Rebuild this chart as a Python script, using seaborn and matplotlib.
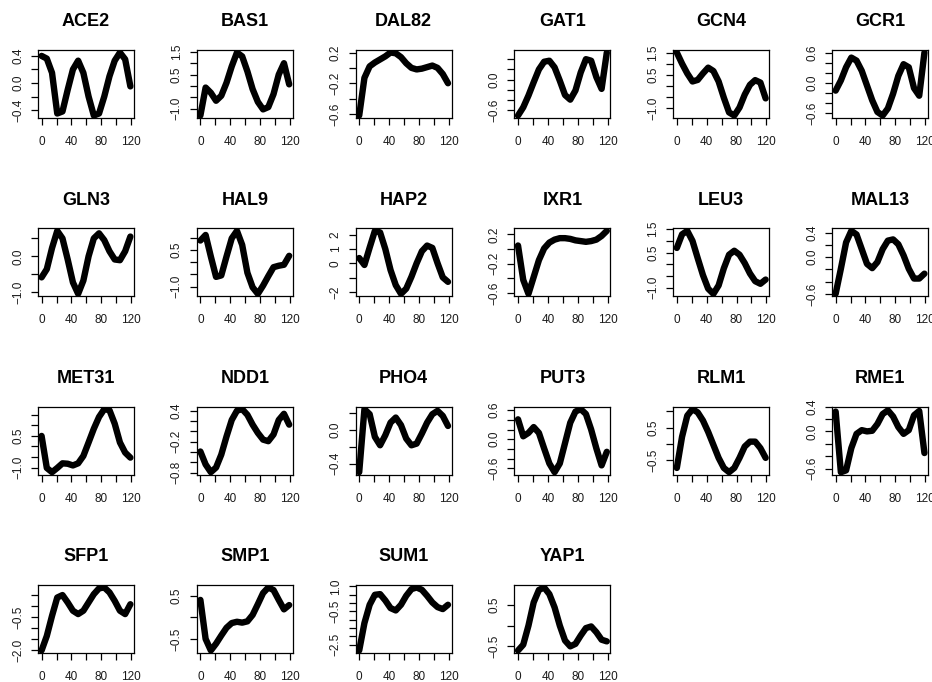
import numpy as np
import matplotlib
matplotlib.use("Agg")
import matplotlib.pyplot as plt
import seaborn as sns

# sampling times (minutes)
minutes = np.arange(0, 120, 7)

genes = ["ACE2", "BAS1", "DAL82", "GAT1", "GCN4", "GCR1",
         "GLN3", "HAL9", "HAP2", "IXR1", "LEU3", "MAL13",
         "MET31", "NDD1", "PHO4", "PUT3", "RLM1", "RME1",
         "SFP1", "SMP1", "SUM1", "YAP1"]

ace2 = [0.40, 0.36, 0.15, -0.45, -0.42, -0.10, 0.20, 0.33, 0.15, -0.20, -0.48, -0.45, -0.20, 0.10, 0.33, 0.45, 0.35, -0.05]
bas1 = [-1.30, -0.07, -0.30, -0.65, -0.43, 0.14, 0.86, 1.47, 1.30, 0.64, -0.14, -0.70, -1.03, -0.93, -0.36, 0.50, 1.00, 0.07]
dal82 = [-0.62, -0.13, 0.02, 0.07, 0.11, 0.15, 0.20, 0.19, 0.14, 0.06, 0.00, -0.02, -0.01, 0.01, 0.03, 0.00, -0.08, -0.20]
gat1 = [-0.70, -0.54, -0.31, -0.05, 0.20, 0.35, 0.37, 0.24, -0.02, -0.30, -0.39, -0.21, 0.14, 0.40, 0.37, 0.05, -0.18, 0.53]
gcn4 = [1.50, 1.00, 0.56, 0.20, 0.27, 0.56, 0.82, 0.67, 0.20, -0.53, -1.19, -1.33, -0.97, -0.39, 0.05, 0.26, 0.15, -0.56]
gcr1 = [-0.15, 0.05, 0.31, 0.50, 0.44, 0.24, -0.05, -0.34, -0.57, -0.64, -0.50, -0.21, 0.14, 0.37, 0.31, -0.10, -0.25, 0.60]
gln3 = [-0.59, -0.36, 0.23, 0.71, 0.50, -0.09, -0.73, -1.05, -0.68, 0.00, 0.50, 0.64, 0.45, 0.14, -0.09, -0.11, 0.14, 0.55]
hal9 = [0.90, 1.13, 0.24, -0.60, -0.54, 0.24, 0.99, 1.30, 0.72, -0.43, -1.03, -1.30, -0.96, -0.57, -0.20, -0.14, -0.10, 0.27]
hap2 = [0.38, -0.10, 1.10, 2.26, 2.15, 1.00, -0.45, -1.50, -2.10, -1.74, -0.92, 0.02, 0.85, 1.24, 1.08, 0.02, -0.96, -1.27]
ixr1 = [0.05, -0.42, -0.61, -0.38, -0.15, 0.01, 0.09, 0.13, 0.15, 0.15, 0.14, 0.12, 0.11, 0.10, 0.11, 0.13, 0.18, 0.25]
leu3 = [0.70, 1.28, 1.43, 1.00, 0.26, -0.46, -1.04, -1.26, -0.90, -0.17, 0.41, 0.58, 0.41, 0.05, -0.39, -0.72, -0.83, -0.65]
mal13 = [-0.60, -0.19, 0.24, 0.43, 0.37, 0.13, -0.11, -0.18, -0.08, 0.13, 0.27, 0.29, 0.21, 0.03, -0.19, -0.35, -0.35, -0.27]
met31 = [0.50, -1.02, -1.22, -1.02, -0.80, -0.82, -0.90, -0.80, -0.45, 0.19, 0.84, 1.40, 1.77, 1.72, 1.08, 0.19, -0.29, -0.53]
ndd1 = [-0.39, -0.64, -0.79, -0.70, -0.45, -0.10, 0.22, 0.40, 0.43, 0.32, 0.13, -0.03, -0.16, -0.19, -0.06, 0.22, 0.34, 0.13]
pho4 = [-0.50, 0.25, 0.19, -0.08, -0.18, -0.06, 0.09, 0.15, 0.06, -0.10, -0.18, -0.16, -0.04, 0.09, 0.19, 0.23, 0.17, 0.05]
put3 = [0.41, 0.06, 0.13, 0.25, 0.13, -0.19, -0.50, -0.68, -0.50, -0.08, 0.34, 0.57, 0.62, 0.52, 0.20, -0.19, -0.54, -0.26]
rlm1 = [-0.74, 0.22, 0.87, 1.07, 0.97, 0.72, 0.37, -0.03, -0.43, -0.74, -0.87, -0.74, -0.43, -0.08, 0.07, 0.07, -0.13, -0.43]
rme1 = [0.32, -0.66, -0.63, -0.27, -0.04, 0.02, 0.00, 0.01, 0.12, 0.28, 0.34, 0.24, 0.07, -0.04, 0.02, 0.26, 0.33, -0.35]
sfp1 = [-2.00, -1.35, -0.45, 0.37, 0.48, 0.15, -0.22, -0.37, -0.22, 0.15, 0.52, 0.78, 0.82, 0.60, 0.22, -0.22, -0.37, 0.07]
smp1 = [0.41, -0.50, -0.77, -0.61, -0.42, -0.24, -0.13, -0.10, -0.12, -0.09, 0.06, 0.31, 0.57, 0.70, 0.64, 0.41, 0.19, 0.29]
sum1 = [-2.85, -1.20, -0.10, 0.50, 0.54, 0.16, -0.30, -0.44, -0.10, 0.44, 0.84, 0.94, 0.80, 0.44, 0.04, -0.24, -0.36, -0.10]
yap1 = [-0.60, -0.46, 0.00, 0.56, 0.86, 0.92, 0.76, 0.44, 0.00, -0.36, -0.50, -0.44, -0.24, -0.06, -0.02, -0.16, -0.34, -0.38]

profiles = [ace2, bas1, dal82, gat1, gcn4, gcr1, gln3, hal9, hap2, ixr1, leu3, mal13,
            met31, ndd1, pho4, put3, rlm1, rme1, sfp1, smp1, sum1, yap1]

# y ticks per panel: (all tick positions, labelled positions)
yticks = [
    ([-0.4, -0.2, 0, 0.2, 0.4], [-0.4, 0.0, 0.4]),
    ([-1.0, -0.5, 0, 0.5, 1.0, 1.5], [-1.0, 0.5, 1.5]),
    ([-0.6, -0.4, -0.2, 0, 0.2], [-0.6, -0.2, 0.2]),
    ([-0.6, -0.4, -0.2, 0, 0.2, 0.4], [-0.6, 0.0]),
    ([-1.0, -0.5, 0, 0.5, 1.0, 1.5], [-1.0, 0.5, 1.5]),
    ([-0.6, -0.4, -0.2, 0, 0.2, 0.4, 0.6], [-0.6, 0.0, 0.6]),
    ([-1.0, -0.5, 0, 0.5], [-1.0, 0.0]),
    ([-1.0, -0.5, 0, 0.5, 1.0], [-1.0, 0.5]),
    ([-2, -1, 0, 1, 2], [-2, 0, 1, 2]),
    ([-0.6, -0.4, -0.2, 0, 0.2], [-0.6, -0.2, 0.2]),
    ([-1.0, -0.5, 0, 0.5, 1.0, 1.5], [-1.0, 0.5, 1.5]),
    ([-0.6, -0.4, -0.2, 0, 0.2, 0.4], [-0.6, 0.0, 0.4]),
    ([-1.0, -0.5, 0, 0.5, 1.0, 1.5], [-1.0, 0.5]),
    ([-0.8, -0.6, -0.4, -0.2, 0, 0.2, 0.4], [-0.8, -0.2, 0.4]),
    ([-0.4, -0.2, 0, 0.2], [-0.4, 0.0]),
    ([-0.6, -0.4, -0.2, 0, 0.2, 0.4, 0.6], [-0.6, 0.0, 0.6]),
    ([-0.5, 0, 0.5, 1.0], [-0.5, 0.5]),
    ([-0.6, -0.4, -0.2, 0, 0.2, 0.4], [-0.6, 0.0, 0.4]),
    ([-2.0, -1.5, -1.0, -0.5, 0, 0.5], [-2.0, -0.5]),
    ([-0.5, 0, 0.5], [-0.5, 0.5]),
    ([-2.5, -2.0, -1.5, -1.0, -0.5, 0, 0.5, 1.0], [-2.5, -0.5, 1.0]),
    ([-0.5, 0, 0.5], [-0.5, 0.5]),
]
xticks = [0, 20, 40, 60, 80, 100, 120]
xlabelled = [0, 40, 80, 120]


def fmt(v, integer=False):
    s = f"{v:.0f}" if integer else f"{v:.1f}"
    return s.replace("-", "\u2212")


sns.set_theme(style="white")
plt.rcParams["font.family"] = ["Liberation Sans", "DejaVu Sans"]
plt.rcParams["text.color"] = "black"

fig, axes = plt.subplots(4, 6, figsize=(9.32, 6.82), dpi=100)
fig.subplots_adjust(left=0.0408, right=0.9957, top=0.9267, bottom=0.0425,
                    wspace=0.656, hspace=1.62)

for i, ax in enumerate(axes.flat):
    if i >= len(genes):
        ax.set_visible(False)
        continue
    sns.lineplot(x=minutes, y=profiles[i], ax=ax, color="black", linewidth=4.6,
                 solid_joinstyle="round", solid_capstyle="round")
    ax.margins(x=0.04, y=0.04)
    ax.set_title(genes[i], fontsize=13, fontweight="bold", pad=17, color="black")

    ax.set_xticks(xticks)
    ax.set_xticklabels([str(t) if t in xlabelled else "" for t in xticks])
    ticks, labelled = yticks[i]
    integer = genes[i] == "HAP2"
    ax.set_yticks(ticks)
    ax.set_yticklabels([fmt(t, integer) if any(abs(t - l) < 1e-9 for l in labelled) else ""
                        for t in ticks], rotation=90, va="center")
    ax.tick_params(axis="both", direction="out", length=5, width=0.9,
                   color="black", labelsize=8.5, labelcolor="#1a1a1a",
                   bottom=True, left=True)
    ax.tick_params(axis="x", pad=8)
    ax.tick_params(axis="y", pad=5)
    ax.set_xlabel("")
    ax.set_ylabel("")
    for sp in ax.spines.values():
        sp.set_visible(True)
        sp.set_color("black")
        sp.set_linewidth(0.9)

fig.savefig("out.png", dpi=100)
